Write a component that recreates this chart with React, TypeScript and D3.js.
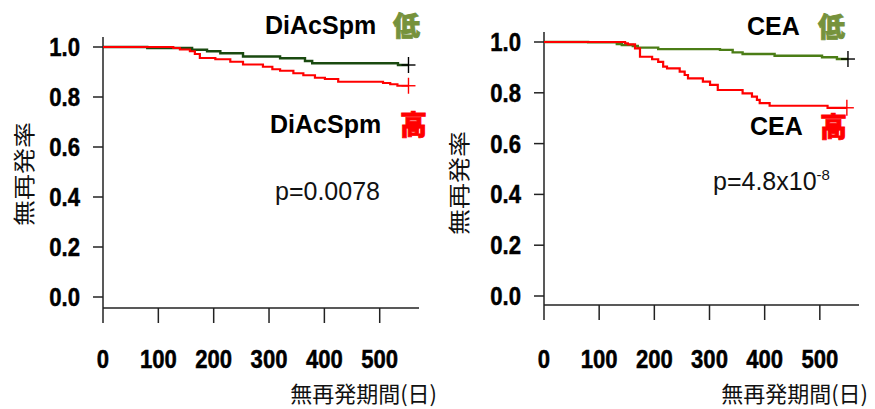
import * as d3 from 'd3';
import React from 'react';

// follow-up time (days) and relapse-free rate
const diacLowDays = [0, 80, 161, 188, 212, 253, 320, 365, 378, 533, 552];
const diacLowRate = [1, 0.996, 0.989, 0.983, 0.975, 0.962, 0.955, 0.944, 0.935, 0.928, 0.928];
const diacHighDays = [0, 127, 139, 157, 166, 175, 203, 230, 253, 289, 306, 320, 344, 362, 383, 401, 425, 506, 519, 532, 552];
const diacHighRate = [1, 0.996, 0.99, 0.983, 0.972, 0.956, 0.951, 0.941, 0.93, 0.921, 0.911, 0.905, 0.895, 0.887, 0.877, 0.872, 0.861, 0.856, 0.851, 0.845, 0.845];

const ceaLowDays = [0, 80, 132, 141, 161, 170, 207, 319, 342, 360, 418, 504, 531, 551];
const ceaLowRate = [1, 0.999, 0.992, 0.988, 0.984, 0.978, 0.972, 0.969, 0.959, 0.953, 0.946, 0.94, 0.933, 0.933];
const ceaHighDays = [0, 147, 152, 165, 174, 196, 207, 216, 223, 246, 255, 261, 288, 301, 315, 360, 377, 386, 391, 409, 514, 549];
const ceaHighRate = [1, 0.995, 0.991, 0.975, 0.942, 0.932, 0.922, 0.903, 0.896, 0.883, 0.87, 0.857, 0.844, 0.831, 0.811, 0.798, 0.785, 0.772, 0.759, 0.749, 0.741, 0.741];

const xTicks = [0, 100, 200, 300, 400, 500];
const yTicks = [0, 0.2, 0.4, 0.6, 0.8, 1.0];
const yTitle = '無再発率';
const xTitle = '無再発期間(日)';
const lowLabel = '低';
const highLabel = '高';

const LATIN = '"Liberation Sans", Arial, sans-serif';
const CJK = '"Noto Sans CJK JP", "Noto Sans CJK SC", sans-serif';

type PanelProps = {
  left: number;
  right: number;
  top: number;
  bottom: number;
  axisTop: number;
  axisY: number;
  marker: string;
  lowDays: number[];
  lowRate: number[];
  highDays: number[];
  highRate: number[];
  lowColor: string;
  legendLow: [number, number, number];
  legendHigh: [number, number, number];
  pText: [number, number];
  pMain: string;
  pSup?: string;
  yTitlePos: [number, number];
  xTitleRight: number;
};

function Panel(p: PanelProps) {
  const x = d3.scaleLinear().domain([0, 571]).range([p.left, p.right]);
  const y = d3.scaleLinear().domain([0, 1]).range([p.bottom, p.top]);

  const line = d3
    .line<[number, number]>()
    .x(d => x(d[0]))
    .y(d => y(d[1]))
    .curve(d3.curveStepAfter);

  const low = p.lowDays.map((t, i) => [t, p.lowRate[i]] as [number, number]);
  const high = p.highDays.map((t, i) => [t, p.highRate[i]] as [number, number]);
  const lowEnd = low[low.length - 1];
  const highEnd = high[high.length - 1];

  const cross = (d: [number, number], color: string) => (
    <g stroke={color} strokeWidth={1.4}>
      <line x1={x(d[0]) - 7} x2={x(d[0]) + 7} y1={y(d[1])} y2={y(d[1])} />
      <line x1={x(d[0])} x2={x(d[0])} y1={y(d[1]) - 8} y2={y(d[1]) + 8} />
    </g>
  );

  return (
    <g>
      {/* axes */}
      <g stroke="#222" strokeWidth={1.5}>
        <line x1={p.left} x2={p.left} y1={p.axisTop} y2={p.axisY} />
        <line x1={p.left} x2={x(571)} y1={p.axisY} y2={p.axisY} />
        {yTicks.map(v => (
          <line key={v} x1={p.left - 10} x2={p.left} y1={y(v)} y2={y(v)} />
        ))}
        {xTicks.map(v => (
          <line key={v} x1={x(v)} x2={x(v)} y1={p.axisY} y2={p.axisY + 15} />
        ))}
      </g>
      {yTicks.map(v => (
        <text
          key={v}
          transform={`translate(${p.left - 23},${y(v) + 9}) scale(0.85,1)`}
          textAnchor="end"
          fontFamily={LATIN}
          fontWeight="bold"
          fontSize={26}
          stroke="#000"
          strokeWidth={0.5}
        >
          {v.toFixed(1)}
        </text>
      ))}
      {xTicks.map(v => (
        <text
          key={v}
          transform={`translate(${x(v)},368) scale(0.85,1)`}
          textAnchor="middle"
          fontFamily={LATIN}
          fontWeight="bold"
          fontSize={26}
          stroke="#000"
          strokeWidth={0.5}
        >
          {v}
        </text>
      ))}

      {/* titles */}
      <text
        transform={`translate(${p.yTitlePos[0]},${p.yTitlePos[1]}) rotate(-90) scale(1,0.82)`}
        textAnchor="middle"
        dominantBaseline="central"
        fontFamily={CJK}
        fontSize={26}
        fill="#111"
      >
        {yTitle}
      </text>
      <text x={p.xTitleRight} y={402} textAnchor="end" fontFamily={CJK} fontSize={22} fill="#111">
        {xTitle}
      </text>

      {/* curves */}
      <path d={line(low) || ''} fill="none" stroke={p.lowColor} strokeWidth={2.4} />
      <path d={line(high) || ''} fill="none" stroke="#ff0000" strokeWidth={2.2} />
      {cross(lowEnd, '#000')}
      {cross(highEnd, '#ff0000')}

      {/* legend */}
      <text x={p.legendLow[0]} y={p.legendLow[2]} fontFamily={LATIN} fontWeight="bold" fontSize={25}>
        {p.marker}
      </text>
      <text x={p.legendLow[1]} y={p.legendLow[2] + 2} fontFamily={CJK} fontWeight={900} fontSize={27} fill="#76923c" stroke="#76923c" strokeWidth={0.8}>
        {lowLabel}
      </text>
      <text x={p.legendHigh[0]} y={p.legendHigh[2]} fontFamily={LATIN} fontWeight="bold" fontSize={25}>
        {p.marker}
      </text>
      <text x={p.legendHigh[1]} y={p.legendHigh[2] + 2} fontFamily={CJK} fontWeight={900} fontSize={27} fill="#ff0000" stroke="#ff0000" strokeWidth={0.8}>
        {highLabel}
      </text>

      <text x={p.pText[0]} y={p.pText[1]} fontFamily={LATIN} fontSize={25} fill="#111">
        {p.pMain}
        {p.pSup && (
          <tspan fontSize={15} dy={-10}>
            {p.pSup}
          </tspan>
        )}
      </text>
    </g>
  );
}

export default function App() {
  return (
    <svg
      width={875}
      height={409}
      style={{ position: 'absolute', left: 0, top: 0, background: '#fff' }}
    >
      <Panel
        left={103}
        right={419}
        top={47}
        bottom={297}
        axisTop={37}
        axisY={308}
        marker="DiAcSpm"
        lowDays={diacLowDays}
        lowRate={diacLowRate}
        highDays={diacHighDays}
        highRate={diacHighRate}
        lowColor="#1a4a10"
        legendLow={[265, 393, 34]}
        legendHigh={[270, 400, 133]}
        pText={[275, 200]}
        pMain="p=0.0078"
        yTitlePos={[23, 174]}
        xTitleRight={437}
      />
      <Panel
        left={544}
        right={859}
        top={42}
        bottom={296}
        axisTop={32}
        axisY={305}
        marker="CEA"
        lowDays={ceaLowDays}
        lowRate={ceaLowRate}
        highDays={ceaHighDays}
        highRate={ceaHighRate}
        lowColor="#4b7d16"
        legendLow={[747, 818, 35]}
        legendHigh={[750, 820, 135]}
        pText={[713, 190]}
        pMain="p=4.8x10"
        pSup="-8"
        yTitlePos={[458, 183]}
        xTitleRight={868}
      />
    </svg>
  );
}
